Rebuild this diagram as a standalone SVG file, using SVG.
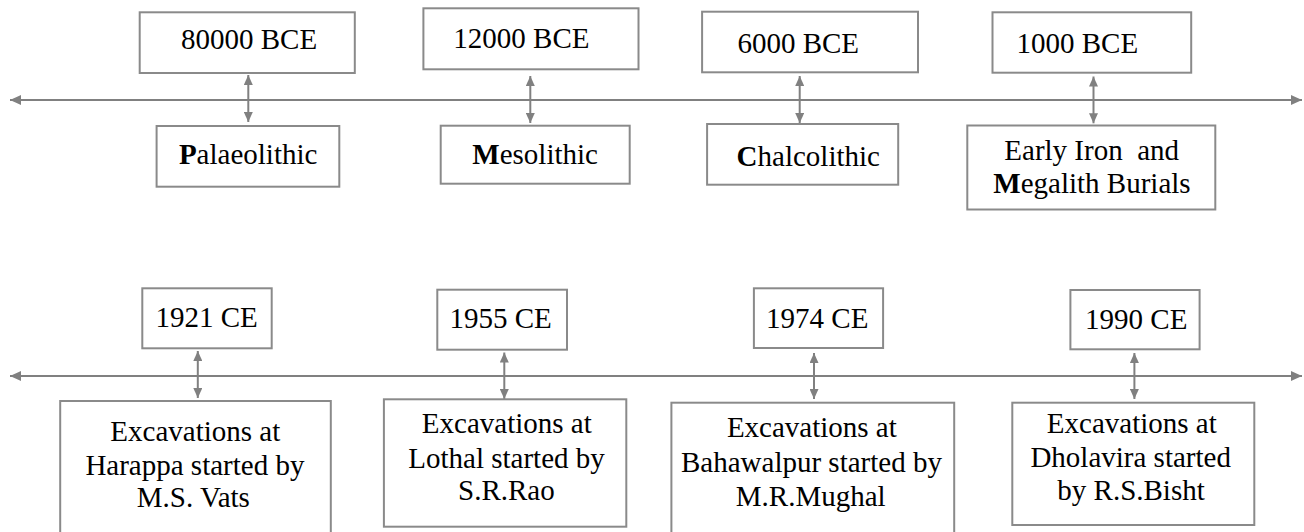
<svg xmlns="http://www.w3.org/2000/svg" width="1304" height="532" viewBox="0 0 1304 532">
<style>
.box{fill:#fff;stroke:#8a8a8a;stroke-width:2}
.t{font-family:"Liberation Serif","Times New Roman",serif;font-size:29px;fill:#000}
.c{stroke:#808080;stroke-width:2;fill:none}
.h{marker-start:url(#ah);marker-end:url(#ah)}
.v{marker-start:url(#av);marker-end:url(#av)}
</style>
<defs>
<marker id="ah" markerUnits="userSpaceOnUse" markerWidth="11" markerHeight="10" refX="11" refY="5" orient="auto-start-reverse"><path d="M0,0 L11,5 L0,10 z" fill="#808080"/></marker>
<marker id="av" markerUnits="userSpaceOnUse" markerWidth="10" markerHeight="9" refX="10" refY="4.5" orient="auto-start-reverse"><path d="M0,0 L10,4.5 L0,9 z" fill="#808080"/></marker>
</defs>
<rect width="1304" height="532" fill="#fff"/>
<g id="connectors">
<line class="c h" x1="10" y1="100" x2="1302" y2="100"/>
<line class="c v" x1="248.3" y1="75" x2="248.3" y2="122"/>
<line class="c v" x1="530.3" y1="76" x2="530.3" y2="123"/>
<line class="c v" x1="799.7" y1="76" x2="799.7" y2="123"/>
<line class="c v" x1="1093.5" y1="76.5" x2="1093.5" y2="123.3"/>
<line class="c h" x1="10" y1="376" x2="1302" y2="376"/>
<line class="c v" x1="197.8" y1="351" x2="197.8" y2="398"/>
<line class="c v" x1="504.3" y1="352.5" x2="504.3" y2="399"/>
<line class="c v" x1="814" y1="353" x2="814" y2="399"/>
<line class="c v" x1="1134.4" y1="353" x2="1134.4" y2="399"/>
</g>
<g id="n80000">
<rect class="box" x="139.7" y="12.3" width="215.1" height="60.7"/>
<text class="t" x="181" y="49">80000 BCE</text>
</g>
<g id="n12000">
<rect class="box" x="423.4" y="8.3" width="215.1" height="61"/>
<text class="t" x="453.3" y="48.3">12000 BCE</text>
</g>
<g id="n6000">
<rect class="box" x="702.1" y="11.7" width="215.9" height="60.6"/>
<text class="t" x="737.4" y="53">6000 BCE</text>
</g>
<g id="n1000">
<rect class="box" x="992.5" y="12.3" width="198.7" height="60.4"/>
<text class="t" x="1016.5" y="53.3">1000 BCE</text>
</g>
<g id="palaeolithic">
<rect class="box" x="156.6" y="126" width="182.7" height="60.7"/>
<text class="t" x="178.9" y="164"><tspan font-weight="bold">P</tspan>alaeolithic</text>
</g>
<g id="mesolithic">
<rect class="box" x="440.7" y="125.7" width="189" height="58"/>
<text class="t" x="472.3" y="164"><tspan font-weight="bold">M</tspan>esolithic</text>
</g>
<g id="chalcolithic">
<rect class="box" x="707.1" y="124" width="191.1" height="60.7"/>
<text class="t" x="736.6" y="165.7"><tspan font-weight="bold">C</tspan>halcolithic</text>
</g>
<g id="megalith">
<rect class="box" x="967.3" y="125.5" width="248" height="84"/>
<text class="t" x="1004.3" y="160" xml:space="preserve">Early Iron  and</text>
<text class="t" x="993.3" y="193"><tspan font-weight="bold">M</tspan>egalith Burials</text>
</g>
<g id="n1921">
<rect class="box" x="142.3" y="288.3" width="129.4" height="60"/>
<text class="t" x="155.5" y="326.5">1921 CE</text>
</g>
<g id="n1955">
<rect class="box" x="437.3" y="289.7" width="129.7" height="60"/>
<text class="t" x="449.5" y="328.3">1955 CE</text>
</g>
<g id="n1974">
<rect class="box" x="753.9" y="288.3" width="129.2" height="59.7"/>
<text class="t" x="766.1" y="328.3">1974 CE</text>
</g>
<g id="n1990">
<rect class="box" x="1070.4" y="290" width="129.2" height="59.3"/>
<text class="t" x="1085.1" y="329.3">1990 CE</text>
</g>
<g id="harappa">
<rect class="box" x="60.2" y="401" width="270.6" height="150"/>
<text class="t" x="110.3" y="440.5">Excavations at</text>
<text class="t" x="85.4" y="474.5">Harappa started by</text>
<text class="t" x="136.8" y="507.3">M.S. Vats</text>
</g>
<g id="lothal">
<rect class="box" x="383.9" y="399.3" width="242.4" height="127.4"/>
<text class="t" x="421.8" y="433.3">Excavations at</text>
<text class="t" x="408.3" y="468.3">Lothal started by</text>
<text class="t" x="458" y="500">S.R.Rao</text>
</g>
<g id="bahawalpur">
<rect class="box" x="671.4" y="402.7" width="282.8" height="150"/>
<text class="t" x="726.9" y="437.3">Excavations at</text>
<text class="t" x="681" y="471.7">Bahawalpur started by</text>
<text class="t" x="735.8" y="505.7">M.R.Mughal</text>
</g>
<g id="dholavira">
<rect class="box" x="1012.3" y="402.7" width="242" height="122.3"/>
<text class="t" x="1046.8" y="433.3">Excavations at</text>
<text class="t" x="1030.4" y="467.3">Dholavira started</text>
<text class="t" x="1057.3" y="500">by R.S.Bisht</text>
</g>
</svg>
